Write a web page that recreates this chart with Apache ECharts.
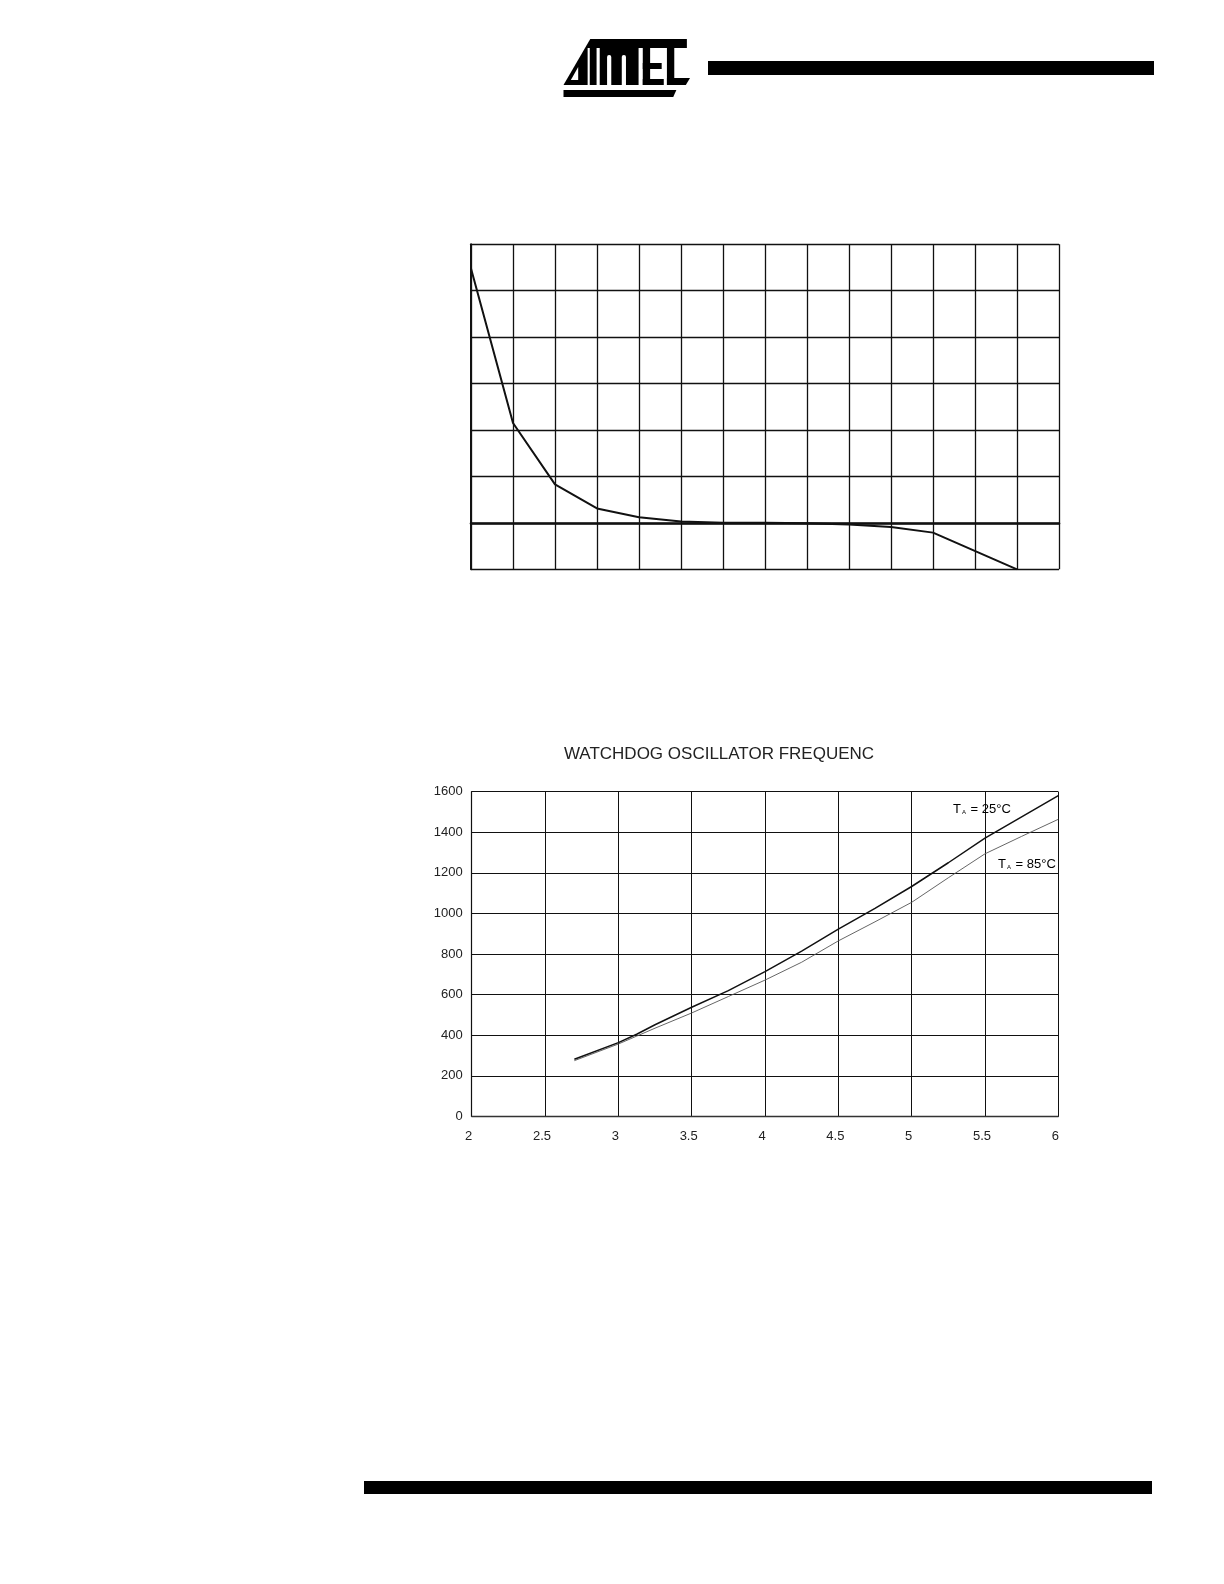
<!DOCTYPE html>
<html>
<head>
<meta charset="utf-8">
<script src="https://cdn.jsdelivr.net/npm/echarts@6/dist/echarts.min.js"></script>
<style>
  html, body { margin: 0; padding: 0; background: #fff; }
  #chart { width: 1224px; height: 1584px; }
</style>
</head>
<body>
<div id="chart"></div>
<script>
// ---- Top chart (unlabelled grid) ----
const topX = [0, 1, 2, 3, 4, 5, 6, 7, 8, 9, 10, 11, 13];
const topY = [5.48, 2.15, 0.83, 0.31, 0.12, 0.03, 0, 0, -0.01, -0.035, -0.09, -0.21, -1.0];

// ---- Bottom chart: watchdog oscillator frequency ----
const titleText = 'WATCHDOG OSCILLATOR FREQUENC';
const vdd = [2.7, 3, 3.125, 3.25, 3.5, 3.75, 4, 4.25, 4.5, 4.75, 5, 5.25, 5.5, 5.75, 6];
const freq25 = [282, 364, 405, 452, 538, 620, 714, 815, 923, 1025, 1133, 1250, 1371, 1476, 1581];
const freq85 = [275, 357, 396, 435, 510, 591, 672, 760, 865, 959, 1055, 1176, 1294, 1380, 1464];
const seriesNames = ['TA = 25°C', 'TA = 85°C'];
const xTicks = [2, 2.5, 3, 3.5, 4, 4.5, 5, 5.5, 6];
const yTicks = [0, 200, 400, 600, 800, 1000, 1200, 1400, 1600];

const FONT = '"Liberation Sans", Arial, Helvetica, sans-serif';
const pairs = (xs, ys) => xs.map((x, i) => [x, ys[i]]);

const chart = echarts.init(document.getElementById('chart'), null, { renderer: 'canvas' });

const labelRich = {
  t: { fontSize: 13, fontFamily: FONT, color: '#222', lineHeight: 15, verticalAlign: 'bottom' },
  s: { fontSize: 6, fontFamily: FONT, color: '#222', lineHeight: 15, verticalAlign: 'bottom', padding: [0, 1, 0, 1] }
};

// logo geometry helper (decoration only)
const LX = x => 563.5 + (x - 566.5) * 1.05;
const P = pts => pts.map(p => [LX(p[0]), p[1]]);
const R = (x, y, w, h) => ({ x: LX(x), y: y, width: w * 1.05, height: h });

chart.setOption({
  backgroundColor: '#fff',
  animation: false,
  title: {
    text: titleText,
    left: 719,
    top: 746,
    padding: 0,
    textAlign: 'center',
    textStyle: { fontSize: 17, fontWeight: 'normal', fontFamily: FONT, color: '#222' }
  },
  grid: [
    { left: 471, top: 244.3, width: 588, height: 325, containLabel: false },
    { left: 471.7, top: 791.7, width: 586.6, height: 324.8, containLabel: false }
  ],
  xAxis: [
    {
      gridIndex: 0, type: 'value', min: 0, max: 14, interval: 1,
      axisLine: { show: true, onZero: true, lineStyle: { color: '#111', width: 2.6 } },
      axisTick: { show: false }, axisLabel: { show: false },
      splitLine: { show: true, lineStyle: { color: '#111', width: 1.3 } }
    },
    {
      gridIndex: 1, type: 'value', min: 2, max: 6, interval: 0.5,
      axisLine: { show: true, lineStyle: { color: '#333', width: 1.4 } },
      axisTick: { show: false },
      axisLabel: { show: true, margin: 13, fontSize: 13, fontFamily: FONT, color: '#222',
        padding: [0, 6, 0, 0], formatter: v => String(v) },
      splitLine: { show: true, lineStyle: { color: '#111', width: 1 } }
    }
  ],
  yAxis: [
    {
      gridIndex: 0, type: 'value', min: -1, max: 6, interval: 1,
      axisLine: { show: true, lineStyle: { color: '#111', width: 2 } },
      axisTick: { show: false }, axisLabel: { show: false },
      splitLine: { show: true, lineStyle: { color: '#111', width: 1.3 } }
    },
    {
      gridIndex: 1, type: 'value', min: 0, max: 1600, interval: 200,
      axisLine: { show: true, lineStyle: { color: '#111', width: 1.2 } },
      axisTick: { show: false },
      axisLabel: { show: true, margin: 9, fontSize: 13, fontFamily: FONT, color: '#222',
        formatter: v => String(v) },
      splitLine: { show: true, lineStyle: { color: '#111', width: 1 } }
    }
  ],
  series: [
    {
      type: 'line', xAxisIndex: 0, yAxisIndex: 0, data: pairs(topX, topY),
      showSymbol: false, symbol: 'none', smooth: false,
      lineStyle: { color: '#111', width: 2 }, z: 5
    },
    {
      name: seriesNames[0], type: 'line', xAxisIndex: 1, yAxisIndex: 1, data: pairs(vdd, freq25),
      showSymbol: false, symbol: 'none', smooth: false,
      lineStyle: { color: '#111', width: 1.5 }, z: 5
    },
    {
      name: seriesNames[1], type: 'line', xAxisIndex: 1, yAxisIndex: 1, data: pairs(vdd, freq85),
      showSymbol: false, symbol: 'none', smooth: false,
      lineStyle: { color: '#555', width: 0.9 }, z: 4
    }
  ],
  graphic: [
    // header rule and footer rule
    { type: 'rect', silent: true, shape: { x: 708, y: 61, width: 446, height: 14 }, style: { fill: '#000' } },
    { type: 'rect', silent: true, shape: { x: 364, y: 1481, width: 788, height: 13 }, style: { fill: '#000' } },
    // logo
    { type: 'group', silent: true, children: [
      { type: 'polygon', shape: { points: P([[592, 39], [684, 39], [684, 48], [587, 48]]) }, style: { fill: '#000' } },
      { type: 'polygon', shape: { points: P([[566.5, 85], [587, 48], [589.5, 48], [589.5, 85]]) }, style: { fill: '#000' } },
      { type: 'polygon', shape: { points: P([[573.5, 80], [580.5, 67], [580.5, 80]]) }, style: { fill: '#fff' } },
      { type: 'rect', shape: R(591.5, 48, 6.5, 37), style: { fill: '#000' } },
      { type: 'rect', shape: R(601, 48, 37, 37), style: { fill: '#000' } },
      { type: 'rect', shape: Object.assign(R(608, 55, 4, 30), { r: [2, 2, 0, 0] }), style: { fill: '#fff' } },
      { type: 'rect', shape: Object.assign(R(622, 55, 4, 30), { r: [2, 2, 0, 0] }), style: { fill: '#fff' } },
      { type: 'rect', shape: R(642, 48, 7, 37), style: { fill: '#000' } },
      { type: 'rect', shape: R(642, 63, 18, 6), style: { fill: '#000' } },
      { type: 'rect', shape: R(642, 79, 20, 6), style: { fill: '#000' } },
      { type: 'rect', shape: R(665, 48, 7, 37), style: { fill: '#000' } },
      { type: 'polygon', shape: { points: P([[665, 78], [687, 78], [683, 85], [665, 85]]) }, style: { fill: '#000' } },
      { type: 'polygon', shape: { points: P([[566.5, 90], [674, 90], [671, 97], [566.5, 97]]) }, style: { fill: '#000' } }
    ]},
    // series annotations
    { type: 'text', silent: true, x: 953, y: 808, z: 10,
      style: { text: '{t|T}{s|A}{t| = 25°C}', rich: labelRich, verticalAlign: 'middle', align: 'left' } },
    { type: 'text', silent: true, x: 998, y: 863, z: 10,
      style: { text: '{t|T}{s|A}{t| = 85°C}', rich: labelRich, verticalAlign: 'middle', align: 'left' } }
  ]
});
</script>
</body>
</html>
